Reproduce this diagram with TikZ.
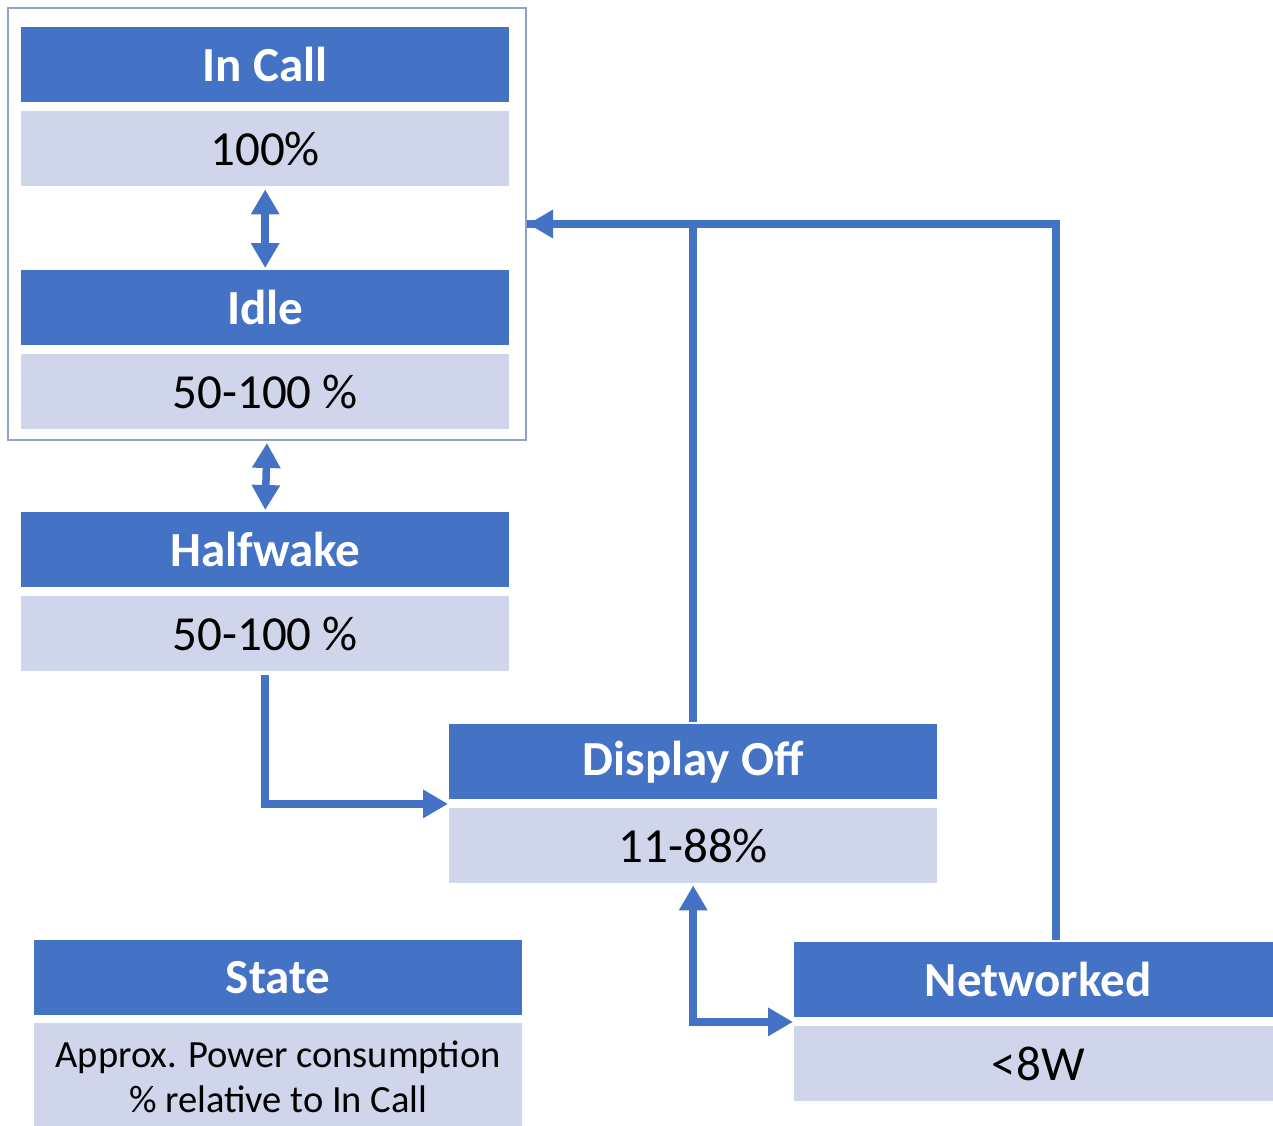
\documentclass[tikz,border=0pt]{standalone}
\usepackage{fontspec}
\setmainfont{Carlito}
\usetikzlibrary{arrows.meta}
\definecolor{hblue}{HTML}{4472C4}
\definecolor{lblue}{HTML}{CFD5EA}
\definecolor{gborder}{HTML}{8FA2C8}
\tikzset{
  x=1pt, y=-1pt,
  hdr/.style={fill=hblue, text=white, anchor=north west, minimum width=488pt, minimum height=75pt, inner sep=0pt,
    font=\fontsize{49}{56}\selectfont\bfseries},
  bodybox/.style={fill=lblue, text=black, anchor=north west, minimum width=488pt, minimum height=75pt, inner sep=0pt,
    font=\fontsize{49}{56}\selectfont},
  conn/.style={draw=hblue, line width=7.5pt},
  tip/.style={-{Triangle[width=27pt,length=25pt]}},
  dtip/.style={{Triangle[width=27pt,length=25pt]}-{Triangle[width=27pt,length=25pt]}},
}
\begin{document}
\begin{tikzpicture}
\useasboundingbox (0,0) rectangle (1273,1125);
\clip (0,0) rectangle (1273,1125);
% group frame
\node[draw=gborder, line width=2pt, anchor=north west, minimum width=518pt, minimum height=432pt, inner sep=0pt] (grp) at (7,7) {};
% In Call
\node[hdr] (inh) at (21,27) {In Call};
\node[bodybox] (inb) at (21,111) {100\%};
% Idle
\node[hdr] (idh) at (21,270) {Idle};
\node[bodybox] (idb) at (21,354) {50-100 \%};
% Halfwake
\node[hdr] (hwh) at (21,512) {Halfwake};
\node[bodybox] (hwb) at (21,596) {50-100 \%};
% Display Off
\node[hdr] (doh) at (449,724) {Display Off};
\node[bodybox] (dob) at (449,808) {11-88\%};
% State legend
\node[hdr] (sth) at (34,940) {State};
\node[bodybox, minimum height=107pt, align=center, font=\fontsize{38.5}{45}\selectfont] (stb) at (34,1023) {Approx. Power consumption\\\% relative to In Call};
% Networked
\node[hdr] (neh) at (794,942) {Networked};
\node[bodybox] (neb) at (794,1026) {<8W};
% connectors
\draw[conn, dtip, shorten <=3pt, shorten >=2pt] (inb.south) -- (idh.north);
\draw[conn, dtip, shorten <=2pt, shorten >=2pt] (grp.south) -- (hwh.north);
\draw[conn, tip, shorten <=4pt, shorten >=1pt] (hwb.south) |- ([yshift=-4.5pt]doh.south west);
\draw[conn, shorten <=2pt] ([xshift=22pt]neh.north) ++(-4pt,0) |- (grp.east);
\draw[conn, tip, shorten <=2pt, shorten >=1pt] (doh.north) |- (grp.east);
\draw[conn, dtip, shorten <=2pt, shorten >=1pt] (dob.south) |- ([yshift=-4.5pt]neh.south west);
\end{tikzpicture}
\end{document}
